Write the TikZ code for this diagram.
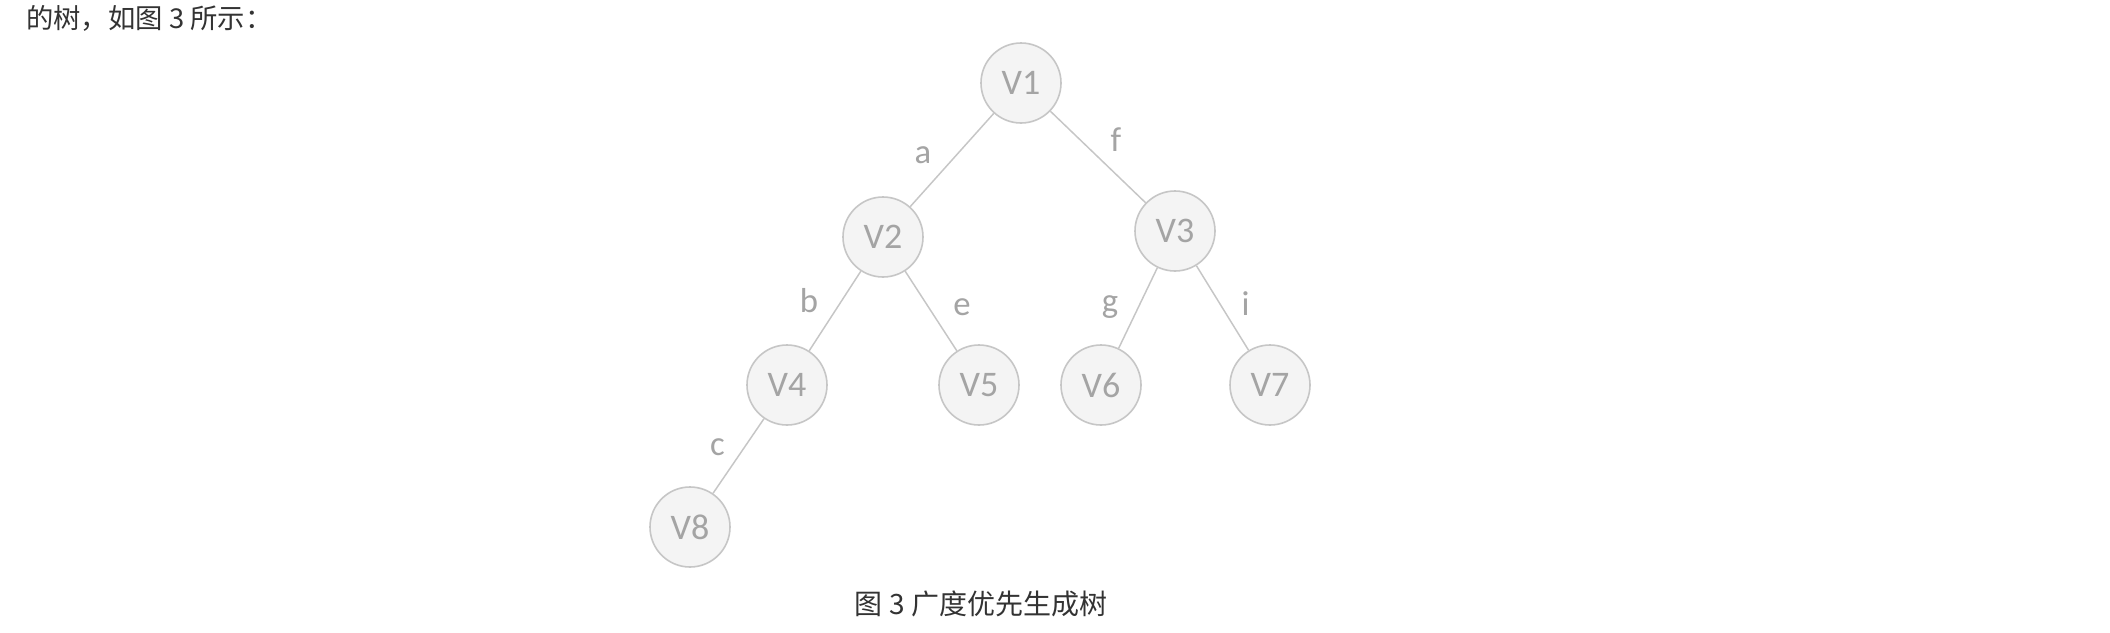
\documentclass[tikz,border=0pt]{standalone}
\usepackage{fontspec}
\setmainfont{Carlito}
\newfontfamily\cjk{Noto Sans CJK SC}
\definecolor{linegray}{HTML}{C6C6C6}
\definecolor{fillgray}{HTML}{F4F4F4}
\definecolor{labelgray}{HTML}{A4A4A4}
\definecolor{textgray}{HTML}{333333}

\begin{document}
\begin{tikzpicture}[x=0.75pt, y=-0.75pt,
    vertex/.style={circle, draw=linegray, line width=1.2pt, fill=fillgray,
        minimum size=60pt, inner sep=0pt, text=labelgray,
        font=\fontsize{27}{27}\selectfont},
    link/.style={draw=linegray, line width=1.1pt},
    edgelbl/.style={text=labelgray, inner sep=0pt, font=\fontsize{26}{26}\selectfont},
    prose/.style={text=textgray, inner sep=0pt, font=\cjk\fontsize{20.5}{20.5}\selectfont}]
\fill [white] (0,0) rectangle (2110,632);
\useasboundingbox (0,0) rectangle (2110,632);
% text before the figure
\node[prose, anchor=west] (intro) at (26,18) {的树，如图 3 所示：};
% vertices of the tree
\foreach \n/\x/\y in {1/1021/83, 2/883/237, 3/1175/231, 4/787/385,
                      5/979/385, 6/1101/385, 7/1270/385, 8/690/527} {
    \node[vertex] (v\n) at (\x,\y) {V\n};
}
% tree edges and their labels
\foreach \a/\b/\l/\dx/\dy in {1/2/a/-21.75/3.75, 1/3/f/13.5/12.75,
                              2/4/b/-19.5/7.5, 2/5/e/23.25/3,
                              3/6/g/-21/0.75, 3/7/i/17.25/3,
                              4/8/c/-15.75/6.75} {
    \draw [link] (v\a) -- (v\b)
        node[edgelbl, midway, xshift=\dx pt, yshift=\dy pt] (lbl\l) {\l};
}
% caption
\node[prose, font=\cjk\fontsize{21}{21}\selectfont] (caption) at (981,604) {图 3 广度优先生成树};
\end{tikzpicture}
\end{document}
